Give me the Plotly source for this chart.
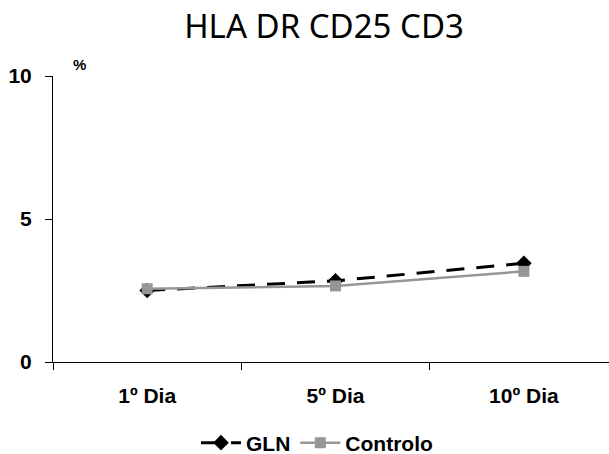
import plotly.graph_objects as go

categories = ["1º Dia", "5º Dia", "10º Dia"]
gln = [2.5, 2.84, 3.45]
controlo = [2.56, 2.66, 3.17]
y_ticks = [0, 5, 10]

W, H = 609, 454
fig = go.Figure()
fig.add_trace(go.Scatter(
    x=categories, y=gln, name="GLN", mode="lines+markers",
    line=dict(color="black", width=3, dash="18px,12px"),
    marker=dict(symbol="diamond", size=12, color="black"),
))
fig.add_trace(go.Scatter(
    x=categories, y=controlo, name="Controlo", mode="lines+markers",
    line=dict(color="#969696", width=2.5),
    marker=dict(symbol="square", size=11, color="#969696"),
))

axis_font = dict(family="Liberation Sans, Arial, sans-serif", size=21, color="black", weight="bold")

fig.update_layout(
    width=W, height=H,
    margin=dict(l=53, r=0, t=76, b=92),
    paper_bgcolor="white", plot_bgcolor="white",
    showlegend=True,
    title=dict(text="HLA DR CD25 CD3", x=324 / W, xanchor="center", xref="container",
               y=1 - 26 / H, yanchor="middle", yref="container",
               font=dict(family="Noto Sans, sans-serif", size=33, color="black")),
    xaxis=dict(type="category", range=[-0.5, 2.452], tickson="boundaries",
               ticks="outside", ticklen=7, tickcolor="black", tickwidth=1,
               showline=True, linecolor="black", linewidth=1,
               showgrid=False, zeroline=False, tickfont=axis_font,
               ticklabelstandoff=15),
    yaxis=dict(range=[0, 10], tickvals=y_ticks, ticks="outside", ticklen=7,
               tickcolor="black", tickwidth=1, showline=True, linecolor="black",
               linewidth=1, showgrid=False, zeroline=False, tickfont=axis_font,
               ticklabelstandoff=9),
    legend=dict(orientation="h", xref="container", yref="container",
                x=317 / W, xanchor="center", y=1 - 443 / H, yanchor="middle",
                font=dict(family="Liberation Sans, Arial, sans-serif", size=21,
                          color="black", weight="bold"),
                itemwidth=40, bgcolor="rgba(0,0,0,0)"),
    annotations=[dict(text="%", xref="paper", yref="paper", showarrow=False,
                      x=(79 - 53) / (W - 53), y=1 + (76 - 65) / (362 - 76),
                      xanchor="center", yanchor="middle",
                      font=dict(family="Liberation Sans, Arial, sans-serif", size=15,
                                color="black", weight="bold"))],
)

fig.write_html("out.html")
